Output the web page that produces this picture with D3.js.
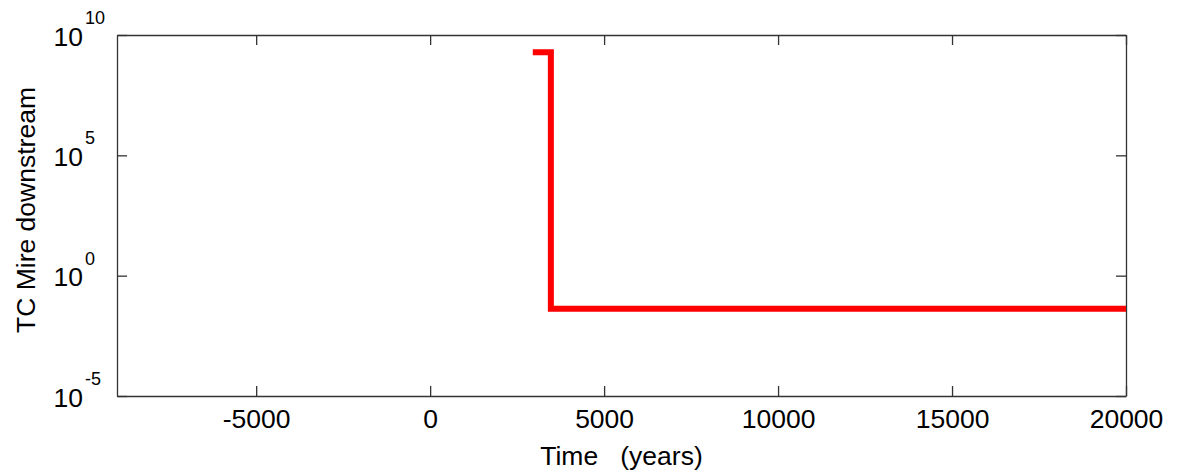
<!DOCTYPE html>
<html>
<head>
<meta charset="utf-8">
<script src="https://cdn.jsdelivr.net/npm/d3@7"></script>
<style>
  body { margin: 0; background: #fff; }
  text { font-family: "Liberation Sans", Arial, sans-serif; fill: #000; }
  .axis path, .axis line { stroke: #333; stroke-width: 1.3; }
</style>
</head>
<body>
<div id="chart"></div>
<script>
// values
const time = [2950, 3470, 3470, 20000];
const tcMire = [1.9e9, 1.9e9, 0.042, 0.042];
const xTicks = [-5000, 0, 5000, 10000, 15000, 20000];
const yTicks = [1e-5, 1e0, 1e5, 1e10];
const yExp = ["-5", "0", "5", "10"];

let margin = { top: 35, left: 117, right: 55, bottom: 79 },
    width = 1181 - margin.left - margin.right,
    height = 475 - margin.top - margin.bottom;

let svg = d3.select("#chart")
    .append("svg")
    .attr("width", 1181)
    .attr("height", 475)
    .append("g")
    .attr("transform", "translate(" + margin.left + "," + margin.top + ")");

const x = d3.scaleLinear().domain([-9000, 20000]).range([0, width]);
const y = d3.scaleLog().domain([1e-5, 1e10]).range([height, 0]);

// bottom axis with labels
const xAxis = svg.append("g")
    .attr("class", "axis")
    .attr("transform", "translate(0," + height + ")")
    .call(d3.axisBottom(x).tickValues(xTicks).tickSize(-10).tickSizeOuter(0).tickPadding(13)
        .tickFormat(d => String(d)));
xAxis.selectAll("text").style("font-size", "26.5px");

// top axis, ticks only
svg.append("g")
    .attr("class", "axis")
    .call(d3.axisTop(x).tickValues(xTicks).tickSize(-10).tickSizeOuter(0).tickFormat(""));

// left axis, labels drawn by hand (10 with exponent)
svg.append("g")
    .attr("class", "axis")
    .call(d3.axisLeft(y).tickValues(yTicks).tickSize(-10).tickSizeOuter(0).tickFormat(""));

svg.append("g")
    .attr("class", "axis")
    .attr("transform", "translate(" + width + ",0)")
    .call(d3.axisRight(y).tickValues(yTicks).tickSize(-10).tickSizeOuter(0).tickFormat(""));

const yLab = svg.append("g").selectAll("g")
    .data(yTicks)
    .enter()
    .append("g")
    .attr("transform", d => "translate(0," + y(d) + ")");

yLab.append("text")
    .attr("x", -34)
    .attr("y", 10.5)
    .attr("text-anchor", "end")
    .style("font-size", "26.5px")
    .text("10");

yLab.append("text")
    .attr("x", -32)
    .attr("y", -11)
    .style("font-size", "18px")
    .text((d, i) => yExp[i]);

// the red line
const line = d3.line()
    .x(d => x(d[0]))
    .y(d => y(d[1]));

svg.append("path")
    .datum(time.map((t, i) => [t, tcMire[i]]))
    .attr("fill", "none")
    .attr("stroke", "#ff0000")
    .attr("stroke-width", 6)
    .attr("stroke-linejoin", "miter")
    .attr("d", line);

// axis titles
svg.append("text")
    .attr("x", width / 2)
    .attr("y", height + 69)
    .attr("text-anchor", "middle")
    .style("font-size", "26.5px")
    .style("white-space", "pre")
    .attr("xml:space", "preserve")
    .text("Time   (years)");

svg.append("text")
    .attr("transform", "translate(" + (-82) + "," + 175 + ") rotate(-90)")
    .attr("text-anchor", "middle")
    .style("font-size", "26.5px")
    .text("TC Mire downstream");
</script>
</body>
</html>
